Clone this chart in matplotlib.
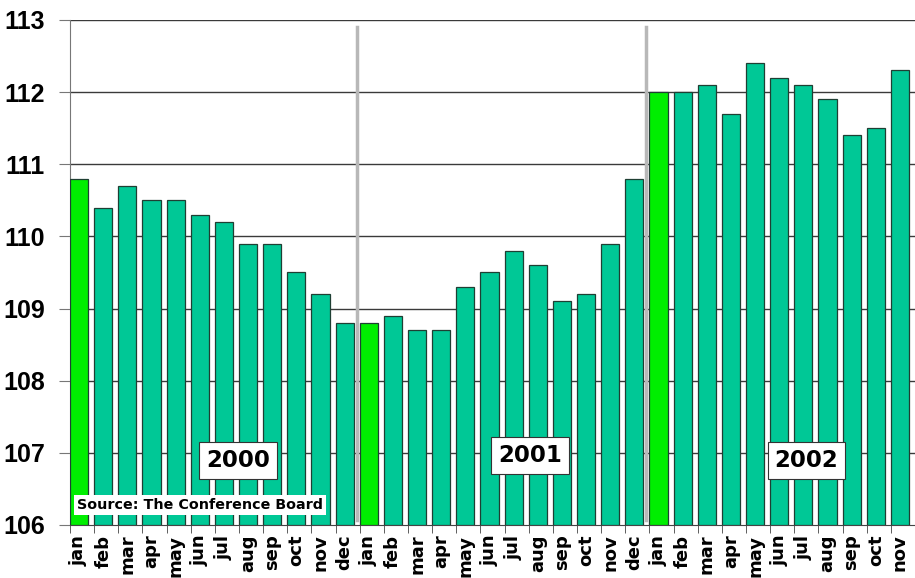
"""Consumer index bar chart, 2000-2002 (The Conference Board)."""

import matplotlib
matplotlib.use("Agg")
import matplotlib.pyplot as plt
import numpy as np

months = ["jan", "feb", "mar", "apr", "may", "jun",
          "jul", "aug", "sep", "oct", "nov", "dec"]
values_2000 = [110.8, 110.4, 110.7, 110.5, 110.5, 110.3,
               110.2, 109.9, 109.9, 109.5, 109.2, 108.8]
values_2001 = [108.8, 108.9, 108.7, 108.7, 109.3, 109.5,
               109.8, 109.6, 109.1, 109.2, 109.9, 110.8]
values_2002 = [112.0, 112.0, 112.1, 111.7, 112.4, 112.2,
               112.1, 111.9, 111.4, 111.5, 112.3]
years = ["2000", "2001", "2002"]

values = values_2000 + values_2001 + values_2002
labels = months + months + months[:len(values_2002)]
n = len(values)
x = np.arange(n)

teal = "#00C896"
green = "#00EE00"
colors = [green if lab == "jan" else teal for lab in labels]

fig = plt.figure(figsize=(9.15, 5.78), dpi=100)
ax = fig.add_axes([0.0765, 0.0917, 0.9235, 0.8737])

base = 106
ax.bar(x, np.array(values) - base, bottom=base, width=0.75, align="edge",
       color=colors, edgecolor="#1f3f33", linewidth=0.9, zorder=3)

ax.set_xlim(0, n)
ax.set_ylim(106, 113)
ax.set_yticks(range(106, 114))
for yv in range(107, 114):
    ax.axhline(yv, color="#3a3a3a", linewidth=1.0, zorder=1)

# year separators
for xs in (11.87, 23.87):
    ax.plot([xs, xs], [106.07, 112.9], color="#b8b8b8", linewidth=2.5, zorder=4)

ax.set_xticks(x + 0.375)
ax.set_xticklabels(labels, rotation=90, fontfamily="DejaVu Sans",
                   fontweight="bold", fontsize=13)
ax.set_xticks(np.arange(n + 1), minor=True)
ax.tick_params(axis="x", which="major", length=0, pad=7)
ax.tick_params(axis="x", which="minor", length=6, color="#444444", direction="out")
ax.tick_params(axis="y", length=8, color="#777777", pad=10)
for t in ax.get_yticklabels():
    t.set_fontfamily("Liberation Sans")
    t.set_fontweight("bold")
    t.set_fontsize(18)

for side in ("top", "right"):
    ax.spines[side].set_visible(False)
ax.spines["left"].set_color("#777777")
ax.spines["bottom"].set_color("#444444")

box = dict(boxstyle="square,pad=0.3", facecolor="white", edgecolor="#333333", linewidth=0.8)
year_pos = [(6.96, 106.89), (19.05, 106.96), (30.5, 106.89)]
for year, (xp, yp) in zip(years, year_pos):
    ax.text(xp, yp, year, ha="center", va="center", fontfamily="DejaVu Sans",
            fontweight="bold", fontsize=16.5, bbox=box, zorder=5)

ax.text(0.3, 106.28, "Source: The Conference Board", ha="left", va="center",
        fontfamily="DejaVu Sans", fontweight="bold", fontsize=10.3,
        bbox=dict(boxstyle="square,pad=0.2", facecolor="white",
                  edgecolor="white", linewidth=0), zorder=5)

fig.savefig("out.png", dpi=100)
plt.close(fig)
